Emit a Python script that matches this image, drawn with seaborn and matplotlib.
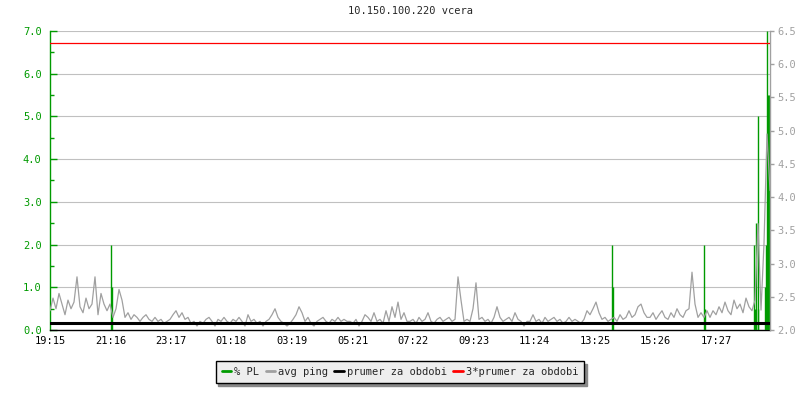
import numpy as np
import matplotlib
matplotlib.use("Agg")
import matplotlib.pyplot as plt
from matplotlib.lines import Line2D
from matplotlib.ticker import MultipleLocator, FormatStrFormatter
import seaborn as sns

# Data
title = "10.150.100.220 vcera"
tick_labels = ["19:15", "21:16", "23:17", "01:18", "03:19", "05:21",
               "07:22", "09:23", "11:24", "13:25", "15:26", "17:27"]

# avg ping [ms], one sample every 6 minutes from 19:15
ping_ms = [
    2.29, 2.48, 2.32, 2.55, 2.39, 2.23, 2.45, 2.32, 2.42, 2.80, 2.35, 2.26, 2.48, 2.32, 2.39, 2.80, 2.23, 2.55, 2.39, 2.29,
    2.39, 2.19, 2.32, 2.61, 2.45, 2.19, 2.26, 2.16, 2.23, 2.19, 2.13, 2.19, 2.23, 2.16, 2.13, 2.19, 2.13, 2.16, 2.10, 2.13,
    2.16, 2.23, 2.29, 2.19, 2.26, 2.16, 2.19, 2.10, 2.13, 2.06, 2.13, 2.10, 2.16, 2.19, 2.13, 2.06, 2.16, 2.13, 2.19, 2.13,
    2.10, 2.16, 2.13, 2.19, 2.13, 2.06, 2.23, 2.13, 2.16, 2.10, 2.13, 2.06, 2.13, 2.16, 2.23, 2.32, 2.19, 2.13, 2.10, 2.06,
    2.10, 2.16, 2.23, 2.35, 2.26, 2.13, 2.19, 2.10, 2.06, 2.13, 2.16, 2.19, 2.13, 2.10, 2.16, 2.13, 2.19, 2.13, 2.16, 2.13,
    2.13, 2.10, 2.16, 2.06, 2.13, 2.23, 2.19, 2.13, 2.26, 2.13, 2.16, 2.10, 2.29, 2.13, 2.35, 2.19, 2.42, 2.16, 2.26, 2.13,
    2.13, 2.16, 2.10, 2.19, 2.13, 2.16, 2.26, 2.13, 2.10, 2.16, 2.19, 2.13, 2.16, 2.19, 2.13, 2.16, 2.80, 2.45, 2.13, 2.16,
    2.13, 2.32, 2.71, 2.16, 2.19, 2.13, 2.16, 2.10, 2.19, 2.35, 2.19, 2.13, 2.16, 2.19, 2.13, 2.26, 2.16, 2.13, 2.06, 2.13,
    2.13, 2.23, 2.13, 2.16, 2.10, 2.19, 2.13, 2.16, 2.19, 2.13, 2.16, 2.10, 2.13, 2.19, 2.13, 2.16, 2.13, 2.10, 2.16, 2.29,
    2.23, 2.32, 2.42, 2.26, 2.16, 2.19, 2.13, 2.16, 2.19, 2.13, 2.23, 2.16, 2.19, 2.29, 2.19, 2.23, 2.35, 2.39, 2.26, 2.19,
    2.19, 2.26, 2.16, 2.23, 2.29, 2.19, 2.16, 2.26, 2.19, 2.32, 2.23, 2.19, 2.29, 2.32, 2.87, 2.39, 2.19, 2.26, 2.19, 2.29,
    2.19, 2.29, 2.23, 2.35, 2.26, 2.42, 2.29, 2.23, 2.45, 2.32, 2.39, 2.26, 2.48, 2.35, 2.29, 2.45, 3.60, 2.30, 3.30, 4.95,
    4.10,
]
sample_step_min = 6

# packet loss [%] (minutes since 19:15, value)
pl_minutes = [122, 124, 1124, 1126, 1308, 1310, 1408, 1410, 1412, 1415, 1416, 1430, 1432, 1434, 1436, 1438]
pl_values = [2.0, 1.0, 2.0, 1.0, 2.0, 0.5, 2.0, 0.5, 2.5, 5.0, 0.5, 1.0, 2.0, 7.0, 5.5, 5.5]

prumer = 2.105

GREEN = "#009a00"
GREY = "#a0a0a0"
RED = "#ff0000"

sns.set_style("white")
plt.rcParams["font.family"] = ["DejaVu Sans Mono"]
plt.rcParams["font.size"] = 7.5

# minutes since start for each tick label (wrap past midnight)
def to_min(s, start="19:15"):
    h, m = map(int, s.split(":"))
    h0, m0 = map(int, start.split(":"))
    return ((h * 60 + m) - (h0 * 60 + m0)) % 1440

tick_pos = [to_min(t) for t in tick_labels]
t_ping = np.arange(len(ping_ms)) * sample_step_min

fig = plt.figure(figsize=(8, 4), dpi=100)
ax = fig.add_axes([50 / 800, 70 / 400, 720 / 800, 299 / 400])
ax2 = ax.twinx()

# % PL impulses on left axis
ax.vlines(pl_minutes, 0, pl_values, color=GREEN, lw=1.0, zorder=3)

# ping + averages on right axis
sns.lineplot(x=t_ping, y=ping_ms, ax=ax2, color=GREY, lw=0.9, zorder=3)
sns.lineplot(x=[0, 1440], y=[prumer, prumer], ax=ax2, color="black", lw=2.2, zorder=4)
sns.lineplot(x=[0, 1440], y=[3 * prumer, 3 * prumer], ax=ax2, color=RED, lw=0.9, zorder=4)

ax.set_xlim(0, 1440)
ax.set_ylim(0, 7)
ax2.set_ylim(2.0, 6.5)

ax.set_xticks(tick_pos)
ax.set_xticklabels(tick_labels)
ax.yaxis.set_major_locator(MultipleLocator(1.0))
ax.yaxis.set_minor_locator(MultipleLocator(0.5))
ax.yaxis.set_major_formatter(FormatStrFormatter("%.1f"))
ax2.yaxis.set_major_locator(MultipleLocator(0.5))
ax2.yaxis.set_major_formatter(FormatStrFormatter("%.1f"))

ax.grid(axis="y", color="#c0c0c0", lw=0.8)
ax.set_axisbelow(True)

for a in (ax, ax2):
    a.spines["top"].set_visible(False)
ax.spines["right"].set_visible(False)
ax2.spines["left"].set_visible(False)
ax2.spines["bottom"].set_visible(False)
ax.spines["left"].set_color(GREEN)
ax.spines["bottom"].set_color("black")
ax2.spines["right"].set_color(GREY)
for s in ("left", "bottom"):
    ax.spines[s].set_linewidth(1.0)
ax2.spines["right"].set_linewidth(1.0)

ax.tick_params(axis="x", direction="in", length=5, width=1, color="black", labelcolor="black", pad=4)
ax.tick_params(axis="y", which="major", direction="in", length=5, width=1, color=GREEN, labelcolor=GREEN, pad=6)
ax.tick_params(axis="y", which="minor", direction="in", length=3, width=1, color=GREEN, left=True)
ax2.tick_params(axis="y", direction="out", length=3, width=1, color=GREY, labelcolor=GREY, pad=2)
ax2.set_ylabel("")
ax.set_ylabel("")

ax.set_title(title, fontsize=7.5, pad=12)

handles = [Line2D([], [], color=GREEN, lw=2), Line2D([], [], color=GREY, lw=2),
           Line2D([], [], color="black", lw=2), Line2D([], [], color=RED, lw=2)]
labels = ["% PL", "avg ping", "prumer za obdobi", "3*prumer za obdobi"]
leg = fig.legend(handles, labels, loc="center", bbox_to_anchor=(0.5, 1 - 372 / 400), ncol=4,
                 frameon=True, fancybox=False, shadow={"color": "#888888", "alpha": 1.0},
                 facecolor="#eeeeee", edgecolor="black", framealpha=1,
                 handlelength=0.9, handletextpad=0.3, columnspacing=0.6, borderpad=0.6,
                 borderaxespad=0.3, fontsize=7.5)
leg.get_frame().set_linewidth(1.0)

fig.savefig("out.png", dpi=100)
